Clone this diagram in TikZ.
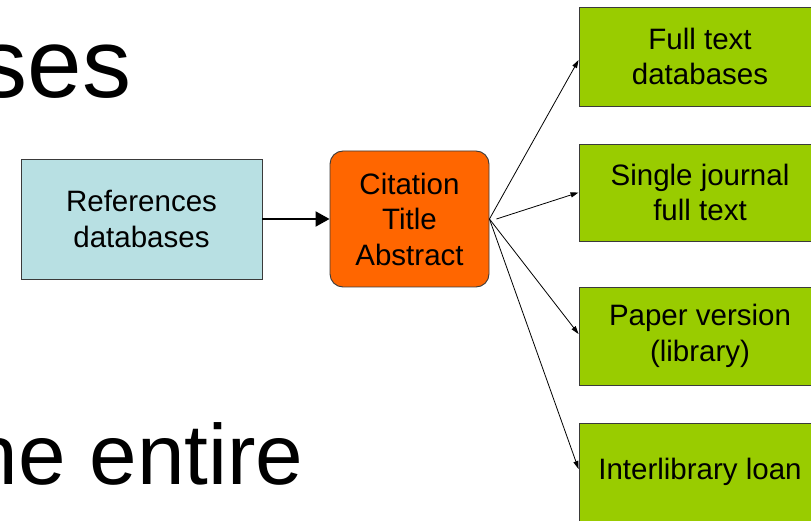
\documentclass[tikz,border=0pt]{standalone}
\usepackage{fontspec}
\setmainfont{Liberation Sans}
\usetikzlibrary{arrows.meta,calc}
\definecolor{refblue}{HTML}{B8E0E3}
\definecolor{citorange}{HTML}{FF6600}
\definecolor{fullgreen}{HTML}{99CC00}
\definecolor{edgegray}{HTML}{3A3A3A}
\tikzset{
  boxtext/.style={font=\fontsize{29.5}{35.5}\selectfont, align=center, inner sep=0pt, draw=edgegray, line width=0.9pt},
  refbox/.style={boxtext, fill=refblue, minimum width=241pt, minimum height=120pt},
  citbox/.style={boxtext, fill=citorange, rounded corners=13pt, minimum width=159pt, minimum height=136pt},
  greenbox/.style={boxtext, fill=fullgreen, minimum width=242pt},
  thinarrow/.style={line width=0.8pt, -{Triangle[length=8pt,width=5pt]}},
  thickarrow/.style={line width=2pt, -{Triangle[length=14pt,width=15pt]}},
  bigtext/.style={inner sep=0pt}
}
\begin{document}
\begin{tikzpicture}[x=1pt,y=-1pt]
\useasboundingbox (0,0) rectangle (811,521);
\clip (0,0) rectangle (811,521);
\fill[white] (0,0) rectangle (811,521);
\node[bigtext, anchor=base east, font=\fontsize{98}{110}\selectfont] (title) at (131.6,98) {ses};
\node[bigtext, anchor=base east, font=\fontsize{85.5}{100}\selectfont] (body) at (303.8,484) {he entire};
\node[refbox] (ref) at (141.5,219) {References\\databases};
\node[citbox] (cit) at (409.5,219) {Citation\\Title\\Abstract};
\node[greenbox, minimum height=99pt] (g1) at (700,56.5) {Full text\\databases};
\node[greenbox, minimum height=97pt] (g2) at (700,192.5) {Single journal\\full text};
\node[greenbox, minimum height=98pt] (g3) at (700,336) {Paper version\\(library)};
\node[greenbox, minimum height=98pt] (g4) at (700,472) {Interlibrary loan};
\draw[thickarrow] (ref.east) -- (cit.west);
\coordinate (o) at (cit.east);
\coordinate (o2) at ([xshift=7pt]cit.east);
\draw[thinarrow] (o) -- ([yshift=-3.5pt]g1.west);
\draw[thinarrow] (o2) -- (g2.west);
\draw[thinarrow] (o) -- ([yshift=2pt]g3.west);
\draw[thinarrow] (o) -- ([yshift=3pt]g4.west);
\end{tikzpicture}
\end{document}
